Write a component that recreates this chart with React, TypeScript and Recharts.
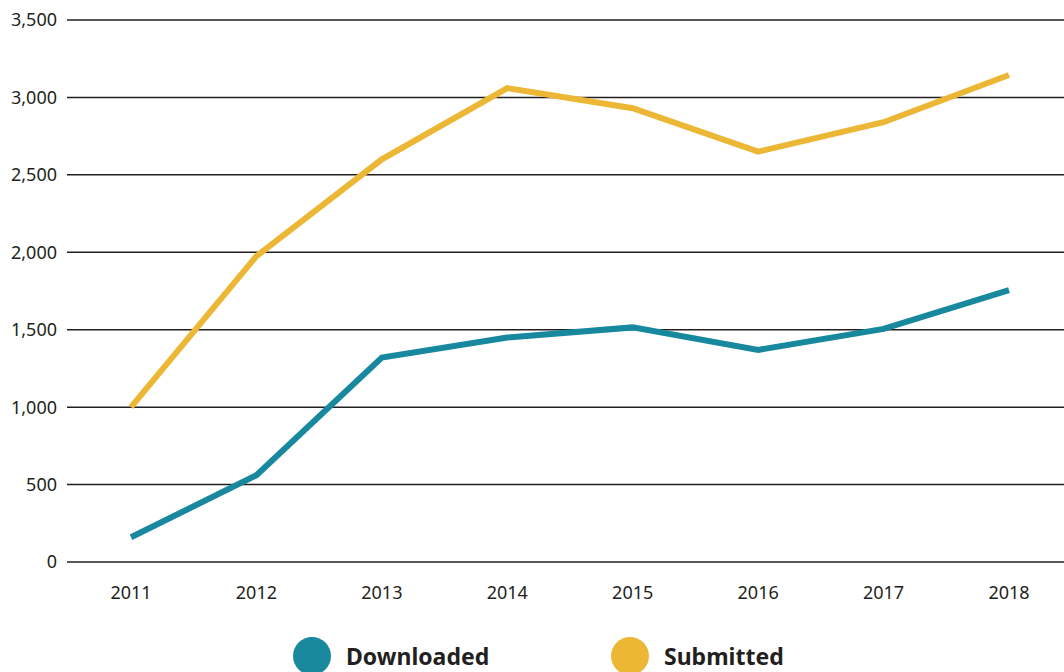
import React from 'react';
import { LineChart, Line, XAxis, YAxis, CartesianGrid, Legend } from 'recharts';

const years = ['2011', '2012', '2013', '2014', '2015', '2016', '2017', '2018'];
const downloaded = [160, 560, 1320, 1450, 1515, 1370, 1505, 1755];
const submitted = [1000, 1975, 2600, 3060, 2930, 2650, 2840, 3145];
const yTicks = [0, 500, 1000, 1500, 2000, 2500, 3000, 3500];

const TEAL = '#17889e';
const GOLD = '#ebb734';

const data = years.map((year, i) => ({
  year,
  downloaded: downloaded[i],
  submitted: submitted[i],
}));

const font = '"Noto Sans", sans-serif';

// legend drawn by hand: big dots + bold labels
const CustomLegend = () => (
  <div style={{ position: 'relative', height: 40, fontFamily: font }}>
    <div style={{ position: 'absolute', left: 293, top: 0, display: 'flex', alignItems: 'center' }}>
      <span style={{ width: 38, height: 38, borderRadius: '50%', background: TEAL, display: 'inline-block' }} />
      <span style={{ marginLeft: 15, fontSize: 23, fontWeight: 700, color: '#231f20' }}>Downloaded</span>
    </div>
    <div style={{ position: 'absolute', left: 611, top: 0, display: 'flex', alignItems: 'center' }}>
      <span style={{ width: 38, height: 38, borderRadius: '50%', background: GOLD, display: 'inline-block' }} />
      <span style={{ marginLeft: 15, fontSize: 23, fontWeight: 700, color: '#231f20' }}>Submitted</span>
    </div>
  </div>
);

const App = () => {
  return (
    <div style={{ position: 'absolute', left: 0, top: 0, background: '#fff' }}>
      <LineChart width={1064} height={672} data={data} margin={{ top: 20, right: 0, left: 0, bottom: 40 }}>
        <CartesianGrid vertical={false} stroke="#231f20" strokeWidth={1.5} />
        <XAxis
          dataKey="year"
          axisLine={false}
          tickLine={false}
          padding={{ left: 64, right: 55 }}
          tickMargin={18}
          tick={{ fontSize: 18, fill: '#231f20', fontFamily: font }}
        />
        <YAxis
          width={67}
          domain={[0, 3500]}
          ticks={yTicks}
          axisLine={false}
          tickLine={false}
          tickMargin={4}
          tickFormatter={(v) => v.toLocaleString('en-US')}
          tick={{ fontSize: 18, fill: '#231f20', fontFamily: font }}
        />
        <Line
          dataKey="downloaded"
          stroke={TEAL}
          strokeWidth={6}
          strokeLinecap="butt"
          strokeLinejoin="miter"
          dot={false}
          activeDot={false}
          isAnimationActive={false}
        />
        <Line
          dataKey="submitted"
          stroke={GOLD}
          strokeWidth={6}
          strokeLinecap="butt"
          strokeLinejoin="miter"
          dot={false}
          activeDot={false}
          isAnimationActive={false}
        />
        <Legend
          content={<CustomLegend />}
          wrapperStyle={{ left: 0, top: 637, width: 1064 }}
        />
      </LineChart>
    </div>
  );
};

export default App;
